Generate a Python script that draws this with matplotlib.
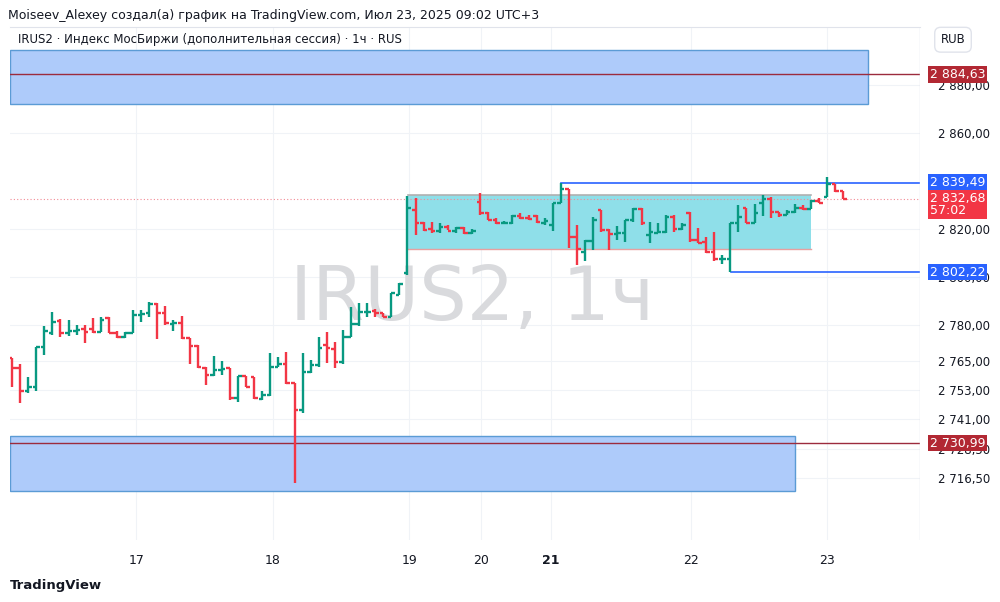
import matplotlib
matplotlib.use("Agg")
import matplotlib.pyplot as plt
from matplotlib.patches import Rectangle

# hourly OHLC bars, IRUS2
opens = [2766.4, 2762.2, 2752.7, 2754.3, 2771.0, 2776.8, 2781.8, 2776.8, 2777.6, 2778.5,
         2778.5, 2777.2, 2783.1, 2776.8, 2775.1, 2776.8, 2784.3, 2785.1, 2788.9, 2785.1,
         2780.5, 2781.0, 2774.7, 2771.4, 2762.2, 2759.3, 2761.4, 2762.2, 2749.7, 2758.9,
         2758.5, 2749.3, 2751.0, 2762.6, 2763.9, 2756.0, 2744.8, 2760.6, 2763.5, 2771.8,
         2770.1, 2764.7, 2775.1, 2780.5, 2785.5, 2785.9, 2785.1, 2783.5, 2792.6, 2801.8,
         2828.0, 2822.6, 2820.1, 2819.3, 2820.9, 2819.3, 2820.5, 2818.4, 2831.3, 2826.8,
         2823.9, 2822.6, 2822.6, 2825.5, 2824.7, 2825.5, 2822.6, 2821.8, 2830.9, 2836.8,
         2816.8, 2810.5, 2815.1, 2828.0, 2819.7, 2818.0, 2818.4, 2823.9, 2828.4, 2817.6,
         2818.4, 2818.8, 2825.1, 2820.1, 2826.8, 2815.5, 2814.7, 2810.5, 2807.6, 2807.6,
         2822.6, 2828.8, 2822.6, 2830.9, 2832.6, 2827.2, 2826.0, 2827.2, 2828.8, 2828.4,
         2831.8, 2833.4, 2839.0, 2835.9]
highs = [2766.4, 2763.9, 2758.5, 2771.0, 2779.7, 2785.5, 2782.6, 2782.2, 2780.1, 2780.1,
         2783.1, 2783.5, 2783.5, 2777.6, 2777.2, 2786.4, 2786.4, 2789.7, 2789.3, 2788.0,
         2782.2, 2783.9, 2774.7, 2771.8, 2762.6, 2767.2, 2765.1, 2762.2, 2758.9, 2758.9,
         2758.5, 2752.7, 2768.5, 2766.8, 2768.9, 2756.0, 2768.5, 2765.6, 2775.1, 2777.2,
         2773.0, 2778.1, 2787.6, 2789.3, 2789.3, 2786.8, 2785.1, 2793.5, 2797.6, 2833.8,
         2833.0, 2823.0, 2823.0, 2822.6, 2821.8, 2820.9, 2820.9, 2820.1, 2835.1, 2827.2,
         2824.7, 2823.4, 2825.9, 2826.8, 2825.9, 2825.9, 2824.7, 2830.9, 2839.49, 2836.8,
         2821.8, 2815.5, 2825.1, 2828.0, 2820.1, 2821.4, 2823.9, 2828.8, 2828.8, 2823.0,
         2822.6, 2825.9, 2825.9, 2822.6, 2827.2, 2820.5, 2816.8, 2818.8, 2809.3, 2822.6,
         2830.1, 2828.8, 2830.5, 2834.3, 2833.4, 2827.2, 2828.0, 2830.5, 2830.1, 2832.2,
         2833.0, 2841.8, 2839.0, 2835.9]
lows = [2754.3, 2747.7, 2751.8, 2752.7, 2767.6, 2776.0, 2775.1, 2775.5, 2776.0, 2772.6,
        2776.8, 2777.2, 2776.8, 2774.7, 2774.7, 2776.8, 2781.4, 2783.5, 2774.3, 2780.1,
        2777.6, 2774.3, 2763.9, 2762.2, 2755.1, 2758.9, 2759.3, 2748.9, 2748.1, 2754.3,
        2749.3, 2748.9, 2750.6, 2762.6, 2755.6, 2714.4, 2743.5, 2760.1, 2762.6, 2764.3,
        2762.2, 2763.9, 2775.1, 2779.7, 2783.5, 2783.5, 2783.5, 2783.5, 2792.6, 2801.0,
        2817.6, 2819.3, 2818.4, 2818.4, 2819.7, 2818.4, 2818.0, 2818.0, 2825.9, 2823.9,
        2822.2, 2822.2, 2822.2, 2824.3, 2823.9, 2822.6, 2821.8, 2819.3, 2830.9, 2812.2,
        2805.1, 2806.8, 2811.4, 2818.8, 2811.4, 2815.5, 2814.7, 2823.0, 2821.8, 2814.3,
        2818.4, 2818.4, 2818.8, 2819.7, 2814.7, 2814.3, 2810.1, 2806.8, 2805.5, 2802.22,
        2818.8, 2822.6, 2822.6, 2825.5, 2824.7, 2825.1, 2826.0, 2826.8, 2828.0, 2828.4,
        2830.9, 2833.4, 2835.5, 2832.7]
closes = [2762.2, 2752.7, 2754.3, 2771.0, 2777.6, 2781.4, 2776.8, 2777.6, 2778.1, 2777.2,
          2777.2, 2782.2, 2776.8, 2775.1, 2776.8, 2784.3, 2784.7, 2788.9, 2785.1, 2781.0,
          2781.0, 2774.7, 2771.4, 2762.6, 2759.3, 2761.4, 2761.8, 2749.7, 2758.9, 2754.3,
          2749.7, 2751.0, 2762.6, 2763.9, 2756.0, 2744.8, 2760.6, 2763.5, 2770.6, 2770.6,
          2764.7, 2775.1, 2780.5, 2785.5, 2785.5, 2785.1, 2783.5, 2793.5, 2797.2, 2828.8,
          2822.6, 2819.7, 2819.3, 2820.9, 2819.3, 2820.5, 2818.4, 2819.3, 2826.8, 2823.9,
          2822.6, 2822.6, 2825.5, 2824.7, 2824.3, 2823.0, 2823.4, 2830.9, 2836.8, 2816.8,
          2811.8, 2815.1, 2823.9, 2819.7, 2818.0, 2818.4, 2823.9, 2828.4, 2822.6, 2818.8,
          2818.8, 2825.1, 2820.1, 2821.8, 2815.5, 2814.3, 2810.5, 2807.6, 2807.6, 2822.6,
          2825.1, 2822.6, 2826.8, 2832.6, 2827.2, 2826.0, 2827.2, 2828.8, 2828.4, 2831.8,
          2830.9, 2839.0, 2835.9, 2832.68]

day_labels = ["17", "18", "19", "20", "21", "22", "23"]
day_pos = [15.4, 32.3, 49.2, 58.1, 66.8, 84.1, 101.0]
y_ticks = [2716.5, 2728.5, 2741.0, 2753.0, 2765.0, 2780.0, 2800.0, 2820.0, 2860.0, 2880.0]
y_tick_labels = ["2 716,50", "2 728,50", "2 741,00", "2 753,00", "2 765,00",
                 "2 780,00", "2 800,00", "2 820,00", "2 860,00", "2 880,00"]

upper_zone = (2872.1, 2894.6, 106.1)   # low, high, right edge (bar index)
lower_zone = (2711.0, 2733.9, 97.0)
range_box = (2811.8, 2834.3, 49.1, 99.0)
res_level = 2884.63
sup_level = 2730.99
hi_level, hi_start = 2839.49, 68.0
lo_level, lo_start = 2802.22, 89.1
last_price = 2832.68

GREEN, RED = "#089981", "#f23645"

fig = plt.figure(figsize=(10, 6.02), dpi=100)
ax = fig.add_axes([0.01, 0.103, 0.91, 0.85])
ax.set_xlim(-0.25, 112.5)
ax.set_ylim(2690.6, 2903.8)

for y in y_ticks:
    ax.axhline(y, color="#f0f3f7", lw=0.8, zorder=0)
for x in day_pos:
    ax.axvline(x, color="#f0f3f7", lw=0.8, zorder=0)

# zones
for lo, hi, right in (upper_zone, lower_zone):
    ax.add_patch(Rectangle((-0.25, lo), right + 0.25, hi - lo, facecolor="#aecbfa",
                           edgecolor="#5b9bd5", lw=1, zorder=1))
ax.plot([-0.25, 112.5], [res_level] * 2, color="#9c2b3d", lw=1, zorder=2)
ax.plot([-0.25, 112.5], [sup_level] * 2, color="#9c2b3d", lw=1, zorder=2)

lo, hi, x0, x1 = range_box
ax.add_patch(Rectangle((x0, lo), x1 - x0, hi - lo, facecolor="#8fdfe9", edgecolor="none", zorder=1))
ax.plot([x0, x1], [hi, hi], color="#b0b0b0", lw=1.2, zorder=2)
ax.plot([x0, x1], [lo, lo], color="#e8a0a0", lw=1, zorder=2)

ax.plot([hi_start, 112.5], [hi_level] * 2, color="#2962ff", lw=1.2, zorder=2)
ax.plot([lo_start, 112.5], [lo_level] * 2, color="#2962ff", lw=1.2, zorder=2)
ax.axhline(last_price, color="#f28b95", lw=0.8, ls=(0, (1, 2)), zorder=2)

ax.text(57, 2791, "IRUS2, 1ч", fontsize=54, color="#d9dadd", ha="center", va="center", zorder=1)

# OHLC bars
for i, (o, h, l, c) in enumerate(zip(opens, highs, lows, closes)):
    col = GREEN if c >= o else RED
    ax.plot([i, i], [l, h], color=col, lw=1.7, zorder=3, solid_capstyle="butt")
    ax.plot([i - 0.45, i], [o, o], color=col, lw=1.7, zorder=3, solid_capstyle="butt")
    ax.plot([i, i + 0.45], [c, c], color=col, lw=1.7, zorder=3, solid_capstyle="butt")

for s in ax.spines.values():
    s.set_visible(False)
ax.yaxis.tick_right()
ax.set_yticks(y_ticks)
ax.set_yticklabels(y_tick_labels)
ax.set_xticks(day_pos)
ax.set_xticklabels(day_labels)
ax.tick_params(axis="y", length=0, labelsize=8.5, colors="#131722", pad=13)
ax.tick_params(axis="x", length=0, labelsize=9, colors="#131722", pad=10)
ax.get_xticklabels()[4].set_fontweight("bold")
ax.axvline(112.5, color="#e0e3eb", lw=1)

# price tags on the right axis
tags = [(res_level, "2 884,63", "#b22833"), (hi_level, "2 839,49", "#2962ff"),
        (lo_level, "2 802,22", "#2962ff"), (sup_level, "2 730,99", "#b22833")]
for y, txt, col in tags:
    ax.text(113.7, y, txt, fontsize=9, color="white", va="center", ha="left", zorder=5,
            bbox=dict(boxstyle="square,pad=0.15", fc=col, ec="none"), clip_on=False)
ax.text(113.7, last_price - 2.2, "2 832,68\n57:02", fontsize=9, color="white", va="center",
        ha="left", linespacing=0.95, zorder=5,
        bbox=dict(boxstyle="square,pad=0.15", fc=RED, ec="none"), clip_on=False)

fig.text(0.008, 0.975, "Moiseev_Alexey создал(а) график на TradingView.com, Июл 23, 2025 09:02 UTC+3",
         fontsize=9, color="#131722", va="center")
fig.text(0.018, 0.934, "IRUS2 · Индекс МосБиржи (дополнительная сессия) · 1ч · RUS",
         fontsize=8.5, color="#131722", va="center")
fig.text(0.953, 0.934, "RUB", fontsize=8.5, color="#131722", va="center", ha="center",
         bbox=dict(boxstyle="round,pad=0.5", fc="white", ec="#e0e3eb"))
fig.text(0.01, 0.028, "TradingView", fontsize=9.5, color="#131722", va="center",
         fontweight="bold")
fig.add_artist(plt.Line2D([0.01, 0.92], [0.955, 0.955], color="#e0e3eb", lw=0.8))

fig.savefig("out.png", dpi=100)
